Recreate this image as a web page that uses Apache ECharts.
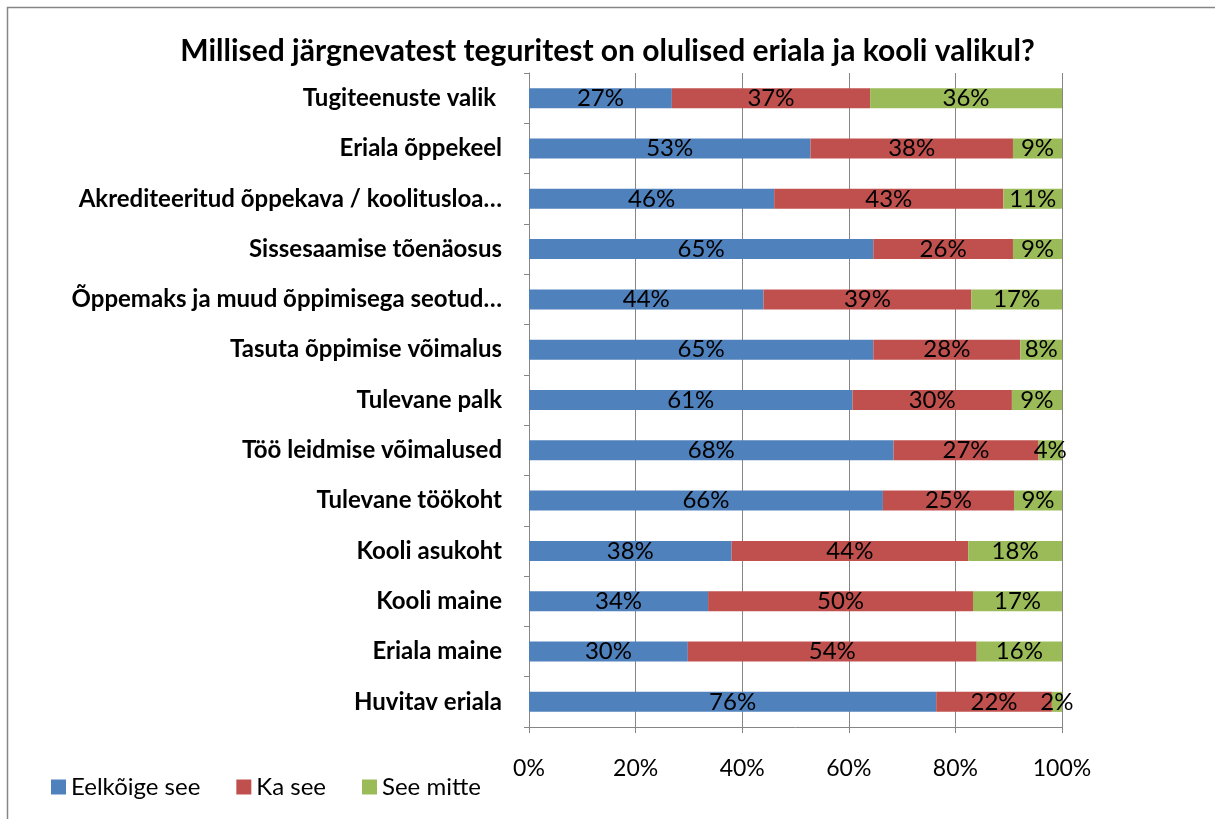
<!DOCTYPE html>
<html>
<head>
<meta charset="utf-8">
<script src="https://cdn.jsdelivr.net/npm/echarts@6/dist/echarts.min.js"></script>
<style>
  html, body { margin: 0; padding: 0; background: #fff; }
  #chart { width: 1215px; height: 819px; }
</style>
</head>
<body>
<div id="chart"></div>
<script>
const categories = [
    'Tugiteenuste valik ',
    'Eriala õppekeel',
    'Akrediteeritud õppekava / koolitusloa…',
    'Sissesaamise tõenäosus',
    'Õppemaks ja muud õppimisega seotud…',
    'Tasuta õppimise võimalus',
    'Tulevane palk',
    'Töö leidmise võimalused',
    'Tulevane töökoht',
    'Kooli asukoht',
    'Kooli maine',
    'Eriala maine',
    'Huvitav eriala'
];
const eelkoige = [26.8, 52.8, 46.0, 64.6, 44.0, 64.6, 60.7, 68.4, 66.4, 38.0, 33.6, 29.8, 76.4];
const kaSee = [37.2, 38.0, 43.0, 26.2, 39.0, 27.6, 29.9, 27.2, 24.6, 44.4, 49.7, 54.2, 21.7];
const seeMitte = [36.0, 9.2, 11.0, 9.2, 17.0, 7.8, 9.4, 4.4, 9.0, 17.6, 16.7, 16.0, 1.9];
const xTicks = [0, 20, 40, 60, 80, 100];

const font = 'Lato, "Open Sans", sans-serif';
const gray = '#868686';

const chart = echarts.init(document.getElementById('chart'));

const makeSeries = (name, data, color) => ({
    name: name,
    type: 'bar',
    stack: 'total',
    barWidth: 20,
    data: data,
    itemStyle: { color: color },
    label: {
        show: true,
        position: 'inside',
        color: '#000',
        fontFamily: font,
        fontSize: 24,
        formatter: p => Math.round(p.value) + '%'
    }
});

const option = {
    animation: false,
    textStyle: { fontFamily: font },
    title: {
        text: 'Millised järgnevatest teguritest on olulised eriala ja kooli valikul?',
        left: 'center',
        top: 31,
        textStyle: { fontFamily: font, fontSize: 30, fontWeight: 'bold', color: '#000' }
    },
    legend: {
        left: 46,
        top: 770,
        itemWidth: 15,
        itemHeight: 15,
        itemGap: 36,
        icon: 'rect',
        textStyle: { fontFamily: font, fontSize: 24, color: '#000' },
        data: ['Eelkõige see', 'Ka see', 'See mitte']
    },
    grid: { left: 529, right: 153, top: 73, bottom: 92 },
    xAxis: {
        type: 'value',
        min: 0,
        max: 100,
        interval: 20,
        axisLine: { show: true, lineStyle: { color: gray } },
        axisTick: { show: true, length: 6, lineStyle: { color: gray } },
        splitLine: { show: true, lineStyle: { color: gray, width: 1 } },
        axisLabel: {
            margin: 30,
            color: '#000',
            fontFamily: font,
            fontSize: 23,
            formatter: v => xTicks.includes(v) ? v + '%' : ''
        }
    },
    yAxis: {
        type: 'category',
        inverse: true,
        data: categories,
        axisLine: { show: true, lineStyle: { color: gray } },
        axisTick: { show: true, length: 5, lineStyle: { color: gray } },
        axisLabel: {
            margin: 27,
            color: '#000',
            fontFamily: font,
            fontSize: 24,
            fontWeight: 'bold'
        }
    },
    graphic: [{
        type: 'rect',
        shape: { x: 7.5, y: 7.5, width: 1400, height: 1000 },
        style: { fill: 'none', stroke: gray, lineWidth: 1.5 },
        silent: true
    }],
    series: [
        makeSeries('Eelkõige see', eelkoige, '#4F81BD'),
        makeSeries('Ka see', kaSee, '#C0504D'),
        makeSeries('See mitte', seeMitte, '#9BBB59')
    ]
};

chart.setOption(option);
</script>
</body>
</html>
